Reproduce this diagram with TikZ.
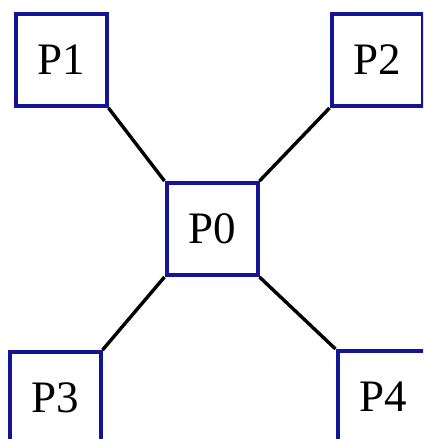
\documentclass[tikz,border=0pt]{standalone}
\usepackage{fontspec}
\setmainfont{Liberation Serif}
\begin{document}
\begin{tikzpicture}[x=1pt,y=-1pt,
  pbox/.style={draw={rgb,255:red,20;green,20;blue,150}, line width=4pt, fill=white,
    minimum width=91pt, minimum height=92pt, inner sep=0pt, font=\fontsize{45}{47}\selectfont},
  link/.style={draw=black, line width=3.4pt}]
\useasboundingbox (0,0) rectangle (423,439);
\clip (0,0) rectangle (423,439);
\node[pbox] (p0) at (212,229) {P0};
\node[pbox] (p1) at (61,60) {P1};
\node[pbox] (p2) at (377,60) {P2};
\node[pbox] (p3) at (55,398) {P3};
\node[pbox] (p4) at (383,397) {P4};
\draw[link] (p1.south east) -- (p0.north west);
\draw[link] (p2.south west) -- (p0.north east);
\draw[link] (p0.south west) -- (p3.north east);
\draw[link] (p0.south east) -- (p4.north west);
\end{tikzpicture}
\end{document}
